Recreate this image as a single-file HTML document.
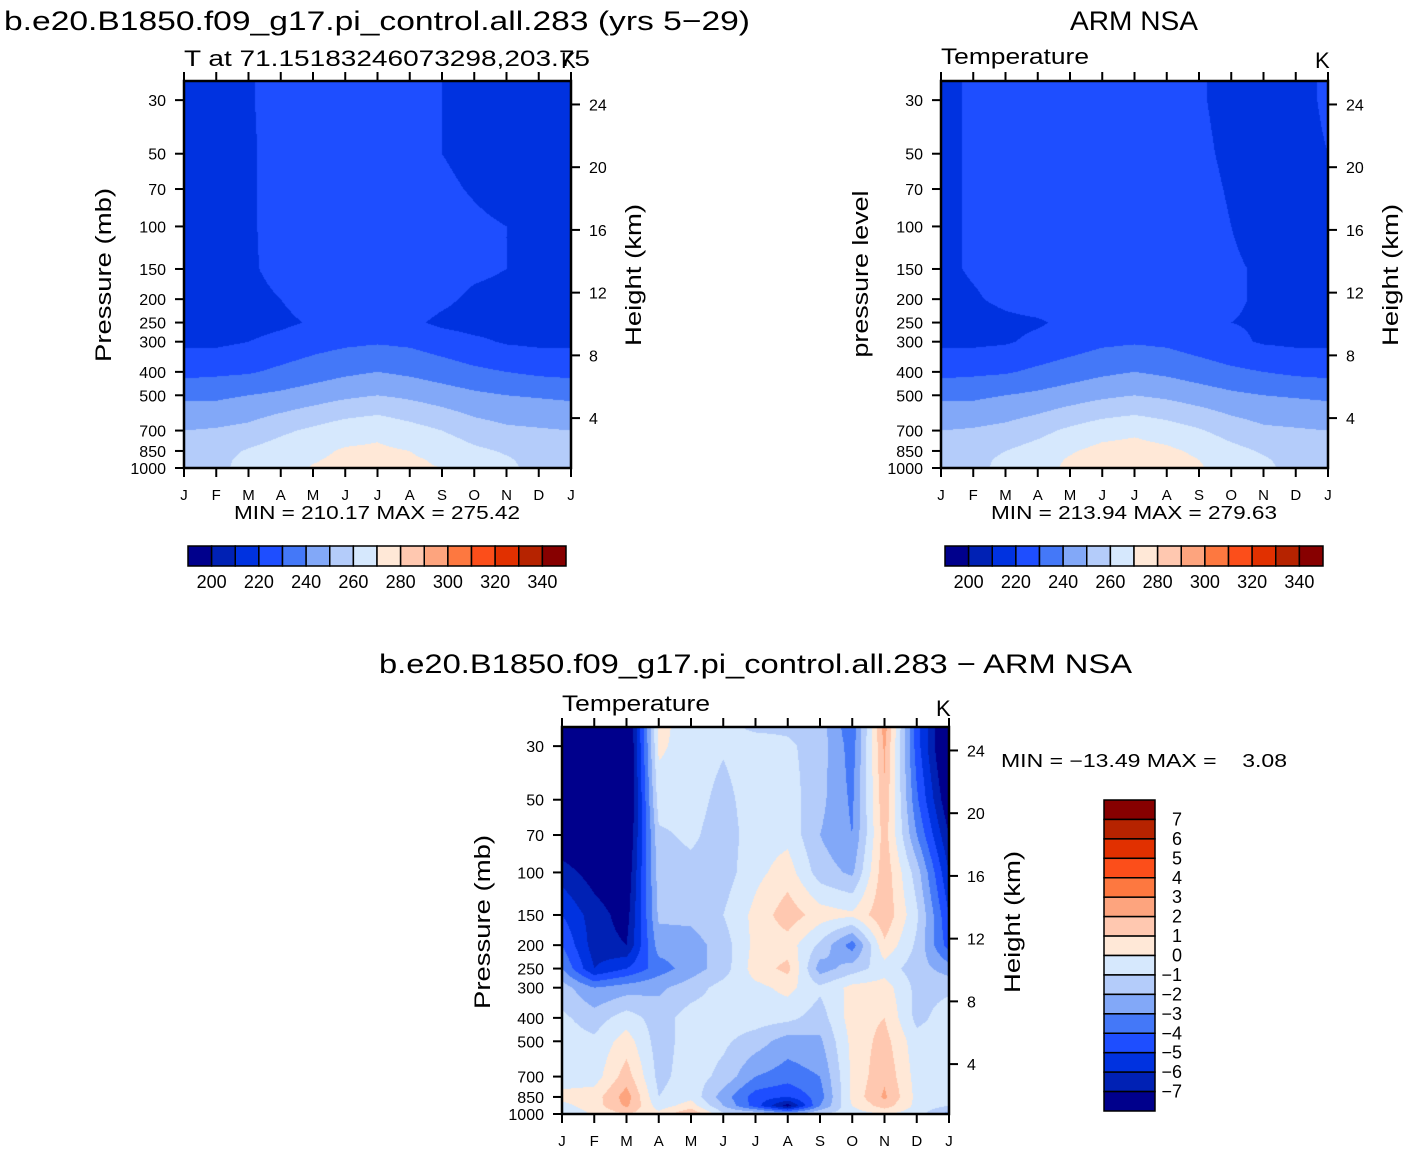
<!DOCTYPE html>
<html><head><meta charset="utf-8">
<style>
html,body{margin:0;padding:0;background:#fff;}
#wrap{position:relative;width:1408px;height:1152px;overflow:hidden;font-family:"Liberation Sans",sans-serif;}
canvas{position:absolute;}
svg{position:absolute;left:0;top:0;}
text{font-family:"Liberation Sans",sans-serif;fill:#000;}
</style></head>
<body>
<div id="wrap">
<canvas id="cTL" width="387" height="387" style="left:184px;top:81px"></canvas>
<canvas id="cTR" width="387" height="387" style="left:941px;top:81px"></canvas>
<canvas id="cB" width="387" height="388" style="left:562px;top:727px"></canvas>
<svg id="svg" width="1408" height="1152" xmlns="http://www.w3.org/2000/svg">
<text x="4" y="30" font-size="27" textLength="746" lengthAdjust="spacingAndGlyphs">b.e20.B1850.f09_g17.pi_control.all.283 (yrs 5−29)</text>
<text x="1070" y="30" font-size="27" textLength="128" lengthAdjust="spacingAndGlyphs">ARM NSA</text>
<text x="184" y="66" font-size="22" textLength="406" lengthAdjust="spacingAndGlyphs">T at 71.15183246073298,203.75</text>
<text x="561" y="68" font-size="22">K</text>
<text x="941" y="64" font-size="22" textLength="148" lengthAdjust="spacingAndGlyphs">Temperature</text>
<text x="1315" y="68" font-size="22">K</text>
<text x="379" y="673" font-size="27" textLength="753" lengthAdjust="spacingAndGlyphs">b.e20.B1850.f09_g17.pi_control.all.283 − ARM NSA</text>
<text x="562" y="711" font-size="22" textLength="148" lengthAdjust="spacingAndGlyphs">Temperature</text>
<text x="936" y="716" font-size="22">K</text>
<text transform="translate(111,275) rotate(-90)" text-anchor="middle" font-size="22" textLength="174" lengthAdjust="spacingAndGlyphs">Pressure  (mb)</text>
<text transform="translate(641,275) rotate(-90)" text-anchor="middle" font-size="22" textLength="142" lengthAdjust="spacingAndGlyphs">Height  (km)</text>
<text transform="translate(868,274) rotate(-90)" text-anchor="middle" font-size="22" textLength="167" lengthAdjust="spacingAndGlyphs">pressure  level</text>
<text transform="translate(1398,275) rotate(-90)" text-anchor="middle" font-size="22" textLength="142" lengthAdjust="spacingAndGlyphs">Height  (km)</text>
<text transform="translate(490,922) rotate(-90)" text-anchor="middle" font-size="22" textLength="174" lengthAdjust="spacingAndGlyphs">Pressure  (mb)</text>
<text transform="translate(1020,922) rotate(-90)" text-anchor="middle" font-size="22" textLength="142" lengthAdjust="spacingAndGlyphs">Height  (km)</text>
<text x="234" y="519" font-size="18" textLength="286" lengthAdjust="spacingAndGlyphs">MIN = 210.17 MAX = 275.42</text>
<text x="991" y="519" font-size="18" textLength="286" lengthAdjust="spacingAndGlyphs">MIN = 213.94 MAX = 279.63</text>
<text x="1001" y="767" font-size="18" textLength="286" lengthAdjust="spacingAndGlyphs" xml:space="preserve">MIN = −13.49 MAX =    3.08</text>
</svg>
</div>
<script>
// ---- data ----
const months = ["J","F","M","A","M","J","J","A","S","O","N","D","J"];
const pressureLevels = [25,30,50,70,100,150,200,250,300,400,500,700,850,925,1000];
const pressureTicks = [30,50,70,100,150,200,250,300,400,500,700,850,1000];
const heightTicks = ["24","20","16","12","8","4"];
const heightKm = [24,20,16,12,8,4];
const tempLevels = [200,210,220,230,240,250,260,270,280,290,300,310,320,330,340];
const tempTickLabels = ["200","220","240","260","280","300","320","340"];
const diffLevels = [-7,-6,-5,-4,-3,-2,-1,0,1,2,3,4,5,6,7];
const diffTickLabels = ["7","6","5","4","3","2","1","0","−1","−2","−3","−4","−5","−6","−7"];
const modelT = [
[216,216,215,215,215,215,215,216,218,227,238,250,254,255,255],
[216,216,215,215,215,215,215,216,218,228,238,251,256,257,257],
[219,219,218.5,218.5,218.5,218.5,217,216,220,229,240,253,261,263,264],
[224,224,224,224,224,223,220,218,223,232,242,258,265,267,267],
[226,226,226,226,226,226,224,221,226,235,245,262,268,269.5,270.5],
[228,228,228,228,227,227,226,224,228,238,248,266,271,271.5,271],
[228,228,228,228,227,227,226,225,229,240,250,268,271.5,272,272],
[227,227,227,227,227,227,225,222,228,238,248,264,270,271,271],
[220,220,220,222,225,225,222,218,225,235,245,260,267,269,270],
[217,217,217,219,222,222,218,216,222,232,242,255,262,264,265],
[215,215,215,216,220,220,217,216,219,230,240,252,259,261,262],
[215,215,215,215,215,215,215,216,218,228,239,251,256,257,257],
[216,216,215,215,215,215,215,216,218,227,238,250,254,255,255]
];
const armT = [
[218,218,218,218,218,218,217,216,218,227,238,250,254,255,255],
[221,221,221,221,221,221,219,216,218,228,238,251,256,257,257],
[223,223,223,223,223,223,222,218,219,229,240,253,260,262,263],
[225,225,225,225,225,225,224,219,222,232,242,257,264,266,266],
[227,227,227,227,227,226,224,222,225,235,245,262,269,271,272],
[228,228,228,228,228,227,226,224,228,238,248,266,273,275,275],
[228,228,228,228,228,227,226,225,229,240,250,268,274,276,276],
[227,227,227,227,227,227,225,223,228,238,248,265,272,274,274],
[221,221,222,223,224,224,223,221,225,235,245,261,268,270,271],
[217,217,218,219,220,221,221,220,222,232,242,256,263,265,266],
[215,215,215,216,217,219,219,219,219,230,240,252,259,261,262],
[216,216,216,216,216,216,217,218,218,228,239,251,256,257,257],
[222,222,220,218,217,217,217,217,218,227,238,250,254,255,255]
];
const diffT = [
[-9,-9,-9,-8,-6.5,-5,-4,-3,-1.5,-0.8,-0.5,-0.5,0.3,-0.3,-1],
[-9,-9,-9,-8.5,-7.5,-6.5,-6.5,-6,-3,-1.5,-0.8,-0.5,0.5,0.5,0.2],
[-9,-9,-9,-8.5,-8,-7.5,-7,-5,-2.5,-0.5,0.5,1.5,2.5,2.2,1],
[0.3,0.2,-0.5,-1.2,-1.5,-1.8,-2.5,-3.5,-2.2,-1.5,-1.5,-1.3,-1,-0.5,0.3],
[-0.5,-0.5,-0.6,-0.8,-1.3,-1.7,-2.5,-2.5,-1.5,-0.5,-0.5,-0.5,-0.3,0.5,2],
[-0.7,-0.9,-1.3,-1.5,-1.5,-1,-1.5,-1.5,-0.6,-0.5,-0.8,-1.3,-2.5,-2,-0.8],
[-1.2,-0.5,-0.5,-0.5,-0.3,0.3,0.3,0.5,-0.3,-0.5,-1.5,-3,-4.5,-4.5,-1],
[-1.2,-0.8,-0.5,-0.3,0.5,1.6,0.5,1.3,0.3,-0.7,-2.5,-3.5,-5,-7.5,-2],
[-1.5,-1.5,-1.7,-2.0,-1.5,0.5,-1.2,-2.5,-0.8,-1.5,-2.2,-3,-3.5,-3,-1],
[-3.8,-3.5,-3.2,-3,-2.2,0.2,-3.5,-1.5,0.3,0.5,0.3,0.2,0.3,0,-0.5],
[2.5,2.2,1.8,1.5,1.7,1.8,0.8,-0.5,0.5,1,1.4,1.8,2.2,1.5,0],
[-4.5,-4.5,-3.8,-3,-1.5,-0.8,-1.2,-1.5,-1.3,-1.3,-0.6,-0.4,-0.3,-0.3,-0.5],
[-9,-9,-8,-7,-6,-5,-4.5,-2.5,-1.2,-0.5,-0.5,-0.5,-0.5,-1,-2.5]
];
const palette = ["#00008C","#0021B4","#0032E0","#1E4EFF","#4478F8","#82A8F8","#B4CCFA","#D6E8FD","#FFE8D7","#FFC8B0","#FDA47E","#FD7840","#FC4E1A","#E13000","#B62300","#870000"];

// ---- axis functions ----
const SIZE = 387;
const K = SIZE / Math.log(1000/25);
function yOfP(p){ return SIZE - K*Math.log(1000/p); }
function xOfMonth(i){ return i*SIZE/12; }
const SCALE_H = 6.69, P_SURF = 1130;
function yOfHeight(z){ return yOfP(P_SURF*Math.exp(-z/SCALE_H)); }
function hexRGB(h){ return [parseInt(h.substr(1,2),16),parseInt(h.substr(3,2),16),parseInt(h.substr(5,2),16)]; }
const rgbPal = palette.map(hexRGB);
function levelIndex(v, lv){ let n=0; for(const l of lv){ if(v>=l) n++; } return n; }
const lnP = pressureLevels.map(p=>Math.log(p));

function drawField(id, data, lv){
  const cv = document.getElementById(id);
  const ctx = cv.getContext('2d');
  const W = cv.width, H = cv.height;
  const img = ctx.createImageData(W,H);
  for(let j=0;j<H;j++){
    const lp = Math.log(1000) - (SIZE - (j+0.5))/K;
    let i=0; while(i<lnP.length-2 && lp>lnP[i+1]) i++;
    let t = (lp-lnP[i])/(lnP[i+1]-lnP[i]); t=Math.max(0,Math.min(1,t));
    for(let x=0;x<W;x++){
      const c = (x+0.5)/SIZE*12;
      let m = Math.min(11, Math.floor(c)); const u = c-m;
      const v = (1-u)*((1-t)*data[m][i]+t*data[m][i+1]) + u*((1-t)*data[m+1][i]+t*data[m+1][i+1]);
      const col = rgbPal[levelIndex(v, lv)];
      const o=(j*W+x)*4; img.data[o]=col[0]; img.data[o+1]=col[1]; img.data[o+2]=col[2]; img.data[o+3]=255;
    }
  }
  ctx.putImageData(img,0,0);
}
drawField('cTL', modelT, tempLevels);
drawField('cTR', armT, tempLevels);
drawField('cB', diffT, diffLevels);

const NS="http://www.w3.org/2000/svg";
const svg=document.getElementById('svg');
function mk(tag, attrs){ const e=document.createElementNS(NS,tag); for(const k in attrs) e.setAttribute(k,attrs[k]); svg.appendChild(e); return e; }

function axes(px, py, prefix){
  const f = mk('rect',{x:px,y:py,width:SIZE,height:SIZE,fill:'none',stroke:'#000','stroke-width':2.5});
  
  
  months.forEach((m,i)=>{
    const x = px + xOfMonth(i);
    const tb = mk('line',{x1:x,y1:py+SIZE,x2:x,y2:py+SIZE+9,stroke:'#000','stroke-width':2});
    
    
    const tt = mk('line',{x1:x,y1:py,x2:x,y2:py-9,stroke:'#000','stroke-width':2});
    
    
    const lb = mk('text',{x:x,y:py+SIZE+32,'font-size':15,'text-anchor':'middle'});
    lb.textContent = m;
    
    
  });
  pressureTicks.forEach(p=>{
    const y = py + yOfP(p);
    const tl = mk('line',{x1:px,y1:y,x2:px-9,y2:y,stroke:'#000','stroke-width':2});
    
    
    const lb = mk('text',{x:px-18,y:y+6,'font-size':16,'text-anchor':'end'});
    lb.textContent = String(p);
    
    
  });
  heightTicks.forEach((h,k)=>{
    const y = py + yOfHeight(heightKm[k]);
    const tr = mk('line',{x1:px+SIZE,y1:y,x2:px+SIZE+9,y2:y,stroke:'#000','stroke-width':2});
    
    
    const lb = mk('text',{x:px+SIZE+18,y:y+6,'font-size':16});
    lb.textContent = h;
    
    
  });
}
axes(184,81,'model');
axes(941,81,'arm');
axes(562,727,'difference');

function hbar(x0, y0, prefix){
  const w = 378/16;
  palette.forEach((c,i)=>{
    const r = mk('rect',{x:x0+i*w,y:y0,width:w,height:20,fill:c,stroke:'#000','stroke-width':1.5});
    
    
  });
  tempTickLabels.forEach((t,k)=>{
    const lb = mk('text',{x:x0+(1+2*k)*w,y:y0+42,'font-size':18,'text-anchor':'middle'});
    lb.textContent = t;
    
    
  });
}
hbar(188,546,'model');
hbar(945,546,'arm');

(function vbar(){
  const x0=1104, y0=800, h=311/16;
  palette.slice().reverse().forEach((c,i)=>{
    const r = mk('rect',{x:x0,y:y0+i*h,width:51,height:h,fill:c,stroke:'#000','stroke-width':1.5});
    
    
  });
  diffTickLabels.forEach((t,k)=>{
    const lb = mk('text',{x:1182,y:y0+(k+1)*h+6,'font-size':18,'text-anchor':'end'});
    lb.textContent = t;
    
    
  });
})();
</script>
</body></html>
